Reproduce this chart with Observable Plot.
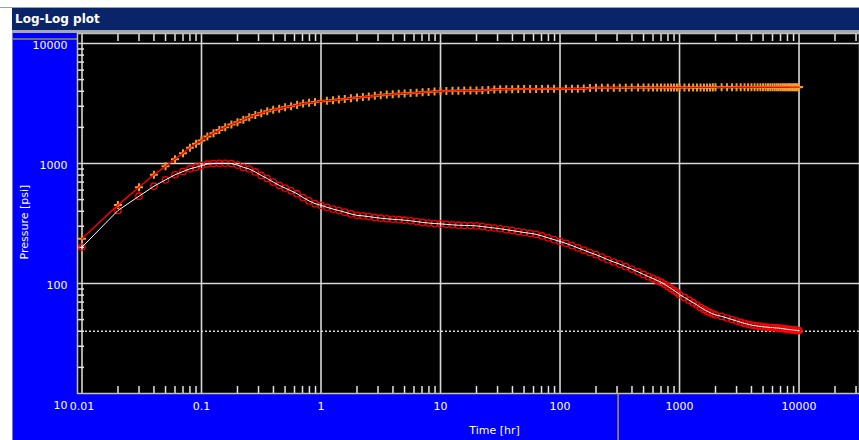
<!DOCTYPE html>
<html><head><meta charset="utf-8">
<script src="https://cdn.jsdelivr.net/npm/d3@7"></script>
<script src="https://cdn.jsdelivr.net/npm/@observablehq/plot@0.6"></script>
<style>
html,body{margin:0;padding:0;background:#ffffff;width:859px;height:440px;overflow:hidden;}
#topline{position:absolute;left:0;top:7px;width:859px;height:1px;background:#a0a0a0;}
#titlebar{position:absolute;left:12px;top:8px;width:847px;height:22px;background:#0a246a;color:#fff;font:bold 12px "DejaVu Sans",sans-serif;line-height:22px;padding-left:3px;box-sizing:border-box;white-space:nowrap;}
#sep{position:absolute;left:12px;top:30px;width:847px;height:3px;background:#a8a8a8;}
#chart{position:absolute;left:12px;top:33px;width:847px;height:407px;border-left:1px solid #808080;box-sizing:border-box;}
#chart svg{display:block;}
</style></head><body>
<div id="topline"></div>
<div id="titlebar">Log-Log plot</div>
<div id="sep"></div>
<div id="chart"></div>
<script>
// ---- data ----
const time = [
  0.01, 0.02, 0.03, 0.04, 0.05, 0.06, 0.07, 0.08, 0.09, 0.1,
  0.112, 0.126, 0.141, 0.158, 0.178, 0.2, 0.224, 0.251, 0.282, 0.316, 0.355, 0.398, 0.447, 0.501, 0.562, 0.631, 0.708, 0.794, 0.891, 1,
  1.12, 1.26, 1.41, 1.58, 1.78, 2, 2.24, 2.51, 2.82, 3.16, 3.55, 3.98, 4.47, 5.01, 5.62, 6.31, 7.08, 7.94, 8.91, 10,
  11.2, 12.6, 14.1, 15.8, 17.8, 20, 22.4, 25.1, 28.2, 31.6, 35.5, 39.8, 44.7, 50.1, 56.2, 63.1, 70.8, 79.4, 89.1, 100,
  112, 126, 141, 158, 178, 200, 224, 251, 282, 316, 355, 398,
  450, 500, 550, 600, 650, 700, 750, 800, 850, 900, 950, 1000,
  1100, 1200, 1300, 1400, 1500, 1600, 1700, 1800, 1900, 2000,
  2250, 2500, 2750, 3000, 3250, 3500, 3750, 4000, 4250, 4500, 4750, 5000, 5250, 5500, 5750, 6000,
  6250, 6500, 6750, 7000, 7250, 7500, 7750, 8000, 8250, 8500, 8750, 9000, 9250, 9500, 9750, 10000
];
// pressure change (orange + with red line)
const deltaP = [
  236, 450, 633, 807, 947, 1087, 1220, 1352, 1460, 1555,
  1680, 1790, 1900, 2005, 2110, 2210, 2320, 2430, 2540, 2625, 2720, 2800, 2860, 2940, 3000, 3080, 3160, 3210, 3250, 3300,
  3340, 3370, 3410, 3455, 3500, 3540, 3580, 3620, 3670, 3710, 3750, 3780, 3810, 3840, 3860, 3890, 3920, 3950, 3975, 4000,
  4015, 4030, 4040, 4050, 4055, 4060, 4080, 4100, 4130, 4150, 4160, 4165, 4170, 4175, 4180, 4182, 4185, 4188, 4190, 4190,
  4195, 4200, 4205, 4210, 4250, 4270, 4275, 4280, 4283, 4285, 4287, 4290,
  4290, 4292, 4293, 4295, 4296, 4297, 4298, 4299, 4300, 4300, 4301, 4302,
  4303, 4304, 4305, 4306, 4306, 4307, 4308, 4308, 4309, 4310,
  4311, 4312, 4313, 4314, 4315, 4315, 4316, 4317, 4317, 4318, 4318, 4319, 4319, 4320, 4320, 4321,
  4321, 4322, 4322, 4323, 4323, 4324, 4324, 4325, 4325, 4326, 4326, 4327, 4327, 4328, 4329, 4330
];
// pressure derivative (red circles with white line)
const deriv = [
  201, 406, 534, 647, 731, 805, 858, 903, 931, 961,
  990, 1000, 1003, 1003, 1000, 970, 930, 900, 850, 795, 750, 700, 658, 624, 592, 560, 520, 488, 463, 448,
  432, 417, 405, 393, 380, 370, 366, 361, 355, 350, 346, 343, 340, 337, 333, 328, 323, 319, 316, 314,
  311, 308, 306, 305, 304, 302, 298, 294, 290, 286, 281, 276, 271, 266, 262, 257, 249, 240, 232, 224,
  216, 207, 198, 190, 181, 174, 166, 158, 151, 145, 138, 132,
  125, 119, 114, 110, 106, 102.5, 98.5, 94.5, 91, 87.5, 84.2, 81,
  76.5, 72.6, 69.2, 66.2, 63.2, 60.8, 58.8, 57.2, 55.8, 54.8,
  53.2, 51.6, 50.1, 48.7, 47.5, 46.5, 45.7, 45.0, 44.6, 44.2, 43.9, 43.6, 43.4, 43.2, 43.0, 42.9,
  42.7, 42.6, 42.5, 42.3, 42.1, 41.9, 41.7, 41.5, 41.4, 41.2, 41.1, 40.9, 40.8, 40.7, 40.6, 40.5
];
const stabilized = [40];               // dotted horizontal level
const xTicks = [0.01, 0.1, 1, 10, 100, 1000, 10000];
const xTickLabels = ["0.01", "0.1", "1", "10", "100", "1000", "10000"];
const yTicks = [10, 100, 1000, 10000];
const yTickLabels = ["10", "100", "1000", "10000"];
const yGrid = [100, 1000, 10000];
const xMinor = [0.02,0.03,0.04,0.05,0.06,0.07,0.08,0.09, 0.2,0.3,0.4,0.5,0.6,0.7,0.8,0.9,
  2,3,4,5,6,7,8,9, 20,30,40,50,60,70,80,90, 200,300,400,500,600,700,800,900,
  2000,3000,4000,5000,6000,7000,8000,9000, 20000,30000];
const yMinor = [20,30,40,50,60,70,80,90, 200,300,400,500,600,700,800,900, 2000,3000,4000,5000,6000,7000,8000,9000];
const xLabel = "Time [hr]";
const yLabel = "Pressure [psi]";
const cursor = {time: 309, pressure: 10800};

if (time.length !== deltaP.length || time.length !== deriv.length) console.error("length mismatch", time.length, deltaP.length, deriv.length);
const table = time.map((t, i) => ({t, dp: deltaP[i], dd: deriv[i]}));

// scale extents (log)
const xLo = 0.00917, xHi = 32060;
const yLo = 12.115, yHi = 12115;
const grid = "#d8d8d8", tickC = "#e4e4e4";
const font = "'DejaVu Sans', sans-serif";

const chart = Plot.plot({
  width: 846, height: 407,
  marginLeft: 64, marginRight: 0, marginTop: 0, marginBottom: 47,
  x: {type: "log", domain: [xLo, xHi], axis: null},
  y: {type: "log", domain: [yLo, yHi], axis: null},
  style: {background: "#0000ff", color: "white", fontFamily: font, fontSize: "11px", overflow: "visible"},
  marks: [
    Plot.frame({fill: "black"}),
    Plot.ruleX(xTicks, {stroke: grid, strokeWidth: 1.6}),
    Plot.ruleY(yGrid, {stroke: grid, strokeWidth: 1.6}),
    Plot.ruleY(stabilized, {stroke: grid, strokeWidth: 1.3, strokeDasharray: "2,2"}),
    // minor ticks on top, bottom and left edges
    Plot.ruleX(xMinor, {y1: yHi, y2: yHi * Math.pow(10, -8 / 120), stroke: tickC, strokeWidth: 1.5}),
    Plot.ruleX(xMinor, {y1: yLo, y2: yLo * Math.pow(10, 7 / 120), stroke: tickC, strokeWidth: 1.5}),
    Plot.ruleY(yMinor, {x1: xLo, x2: xLo * Math.pow(10, 7 / 119.5), stroke: tickC, strokeWidth: 1.5}),
    // data
    Plot.dot(table, {x: "t", y: "dp", symbol: "plus", r: 2.7, stroke: "#f0a030", strokeWidth: 2}),
    Plot.line(table, {x: "t", y: "dp", stroke: "#ff0000", strokeWidth: 1.4}),
    Plot.dot(table, {x: "t", y: "dd", r: 3.2, stroke: "#ff0000", strokeWidth: 1.3, fill: "none"}),
    Plot.line(table, {x: "t", y: "dd", stroke: "#ffffff", strokeWidth: 1}),
    Plot.frame({stroke: "#c0c0c0", strokeWidth: 1.5}),
    // tick labels
    Plot.text(yTicks, {y: d => d, text: (d, i) => yTickLabels[i], frameAnchor: "left", textAnchor: "end", dx: -10, dy: 1.5, fill: "white", fontSize: 11}),
    Plot.text(xTicks, {x: d => d, text: (d, i) => xTickLabels[i], frameAnchor: "bottom", dy: 16, fill: "white", fontSize: 11}),
    // x axis title
    Plot.text([xLabel], {frameAnchor: "bottom", dx: 26, dy: 40, fill: "white", fontSize: 11})
  ]
});

const sx = chart.scale("x"), sy = chart.scale("y");
const svg = d3.select(chart);
const [frameBottom, frameTop] = sy.range;
const frameLeft = sx.range[0];

// y axis title, rotated, left of the tick labels
svg.append("text")
  .attr("transform", `translate(${frameLeft - 53},${(frameBottom + frameTop) / 2 + 9}) rotate(-90)`)
  .attr("text-anchor", "middle").attr("dy", "0.35em")
  .attr("fill", "white").attr("font-size", 11).attr("font-family", font)
  .text(yLabel);

// cursor marks (yellow) in the margins
const cx = sx.apply(cursor.time), cy = sy.apply(cursor.pressure);
svg.append("line").attr("x1", cx).attr("x2", cx).attr("y1", frameBottom).attr("y2", 407)
  .attr("stroke", "#d0c000").attr("stroke-width", 1.2);
svg.append("line").attr("x1", 0).attr("x2", frameLeft).attr("y1", cy).attr("y2", cy)
  .attr("stroke", "#e0d800").attr("stroke-width", 1.2);

document.getElementById("chart").appendChild(chart);
</script></body></html>
